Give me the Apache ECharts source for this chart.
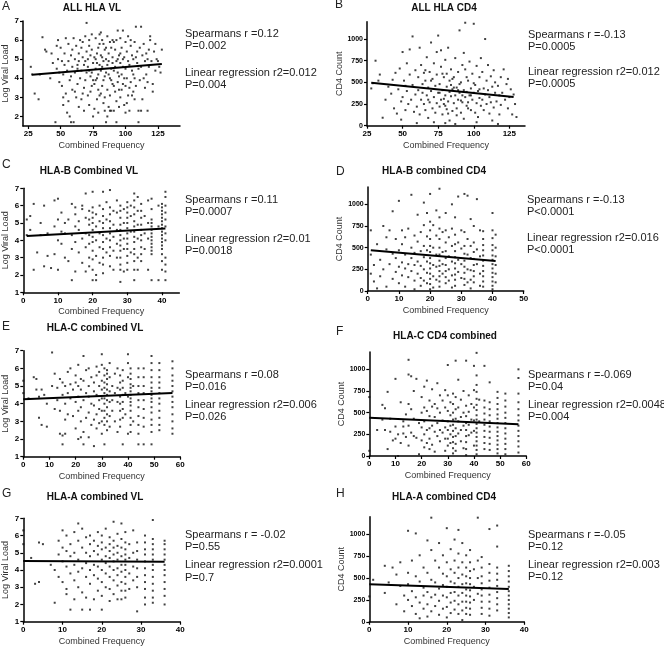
<!DOCTYPE html>
<html><head><meta charset="utf-8">
<script src="https://cdn.jsdelivr.net/npm/echarts@6/dist/echarts.min.js"></script>
<style>html,body{margin:0;padding:0;background:#fff}#c{width:664px;height:648px}</style>
</head><body><div id="c"></div><script>
// ---------- DATA ----------
const ptsA = [[27,4.6],[28,4.2],[30,3.2],[33,2.9],[34,4.2],[36,6.15],[38,5.5],[39,5.4],[42,4.0],[43,5.3],[44,4.8],
[46,1.7],[47,5.7],[47,4.5],[48,5.0],[49,3.8],[49,4.3],[48,6.0],[50,5.6],[51,4.9],[51,3.6],[52,4.2],[52,2.6],[53,5.3],[53,4.7],[54,3.2],[54,6.1],[55,4.4],[55,2.2],[52,3.0],
[56,5.8],[56,4.9],[57,3.9],[57,2.0],[58,1.7],[58,5.2],[59,4.6],[59,3.4],[60,6.1],[60,1.7],[58,4.1],[56,2.8],[59,5.5],
[61,5.0],[61,4.3],[62,3.0],[62,5.7],[63,4.7],[63,3.7],[64,2.5],[64,5.3],[65,4.0],[65,6.0],[61,3.3],[63,4.5],[64,4.9],
[66,5.6],[66,4.4],[67,3.2],[67,5.1],[68,4.7],[68,2.3],[69,6.2],[69,3.9],[70,6.9],[70,4.3],[66,2.9],[67,5.9],[68,3.5],[69,4.9],[70,5.4],
[71,4.6],[71,3.1],[72,5.7],[72,2.6],[73,4.1],[73,5.2],[74,3.6],[74,6.3],[75,4.8],[75,2.0],[71,5.0],[72,4.4],[73,3.3],[74,5.5],[75,3.9],[72,6.0],[74,4.3],
[76,5.1],[76,3.7],[77,4.5],[77,6.1],[78,2.9],[78,5.3],[79,4.2],[79,3.4],[80,5.8],[80,4.7],[76,2.4],[77,5.0],[78,4.0],[79,5.6],[80,3.1],[77,3.9],[78,4.8],[79,2.2],[80,6.3],
[81,4.4],[81,5.2],[82,3.6],[82,6.0],[83,4.9],[83,2.7],[84,5.5],[84,4.1],[85,1.7],[85,5.0],[81,3.2],[82,4.6],[83,5.8],[84,3.0],[85,4.3],[81,6.4],[83,3.9],[84,2.3],[85,5.6],[82,5.1],
[86,4.7],[86,3.4],[87,5.3],[87,2.5],[88,4.0],[88,5.9],[89,4.5],[89,2.3],[90,5.1],[90,3.7],[86,6.2],[87,4.2],[88,3.1],[89,5.6],[90,4.8],[86,2.0],[88,2.3],[89,3.9],[90,6.0],[87,4.9],
[91,4.4],[91,2.3],[92,5.5],[92,3.3],[93,1.7],[93,4.9],[94,6.5],[94,3.8],[95,5.2],[95,4.1],[91,5.9],[92,4.6],[93,2.8],[94,5.0],[95,3.4],[91,3.6],[93,6.0],[94,4.3],[95,2.5],
[96,4.8],[96,3.0],[97,5.6],[97,4.2],[98,6.5],[98,3.7],[99,5.1],[99,2.6],[100,4.5],[100,5.9],[96,5.3],[97,3.4],[98,4.6],[99,4.0],[100,2.2],[96,6.1],[98,5.0],[100,3.6],
[101,5.4],[101,4.0],[102,3.1],[102,6.2],[103,4.7],[103,2.3],[104,5.7],[104,3.8],[105,4.4],[105,5.2],[101,2.7],[102,4.9],[103,3.5],[104,6.0],[105,3.1],
[106,5.0],[106,4.2],[107,2.9],[107,5.9],[108,6.7],[108,3.6],[109,4.8],[109,5.4],[110,1.7],[110,4.5],[106,3.3],[108,5.1],[110,2.3],[107,4.0],
[111,5.6],[111,3.9],[112,6.7],[112,4.6],[113,2.9],[113,5.2],[114,4.0],[114,5.8],[115,3.5],[115,4.9],[112,2.3],
[116,5.3],[116,4.2],[117,2.3],[117,3.8],[118,4.6],[118,5.5],[119,6.2],[119,6.0],[120,4.9],[117,5.0],
[121,3.7],[121,3.3],[122,5.4],[123,4.4],[124,5.0],[125,4.9],[123,5.8],[126,4.6],[128,5.5],[127,4.3]];

const ptsB = [[28,430],[29,490],[31,750],[33,520],[34,590],[36,92],[38,300],[40,450],[42,370],[43,530],[44,200],[45,610],
[46,140],[47,420],[48,660],[49,280],[50,850],[50,330],[51,520],[52,180],[53,720],[53,400],[54,250],[55,880],[55,590],[52,460],[49,70],
[56,300],[57,1030],[57,470],[58,160],[59,640],[59,360],[60,220],[61,560],[61,410],[62,900],[62,130],[63,700],[63,300],[64,480],[65,250],[65,610],[60,30],[64,380],
[66,520],[66,180],[67,790],[67,350],[68,440],[68,90],[69,620],[69,270],[70,960],[70,400],[71,200],[71,540],[72,330],[72,720],[73,150],[73,460],[74,260],[74,850],[75,1040],[75,380],[66,640],[68,300],[70,520],[72,40],[74,590],
[76,220],[76,480],[77,300],[77,680],[78,130],[78,410],[79,560],[79,250],[80,760],[80,350],[81,190],[81,450],[82,900],[82,280],[83,520],[83,60],[84,340],[84,650],[85,420],[85,170],[76,380],[78,600],[80,230],[82,140],[84,470],[77,870],[79,310],[81,600],[83,390],[85,540],[80,30],
[86,260],[86,560],[87,350],[87,780],[88,200],[88,440],[89,620],[89,300],[90,1100],[90,380],[91,150],[91,500],[92,270],[92,700],[93,410],[93,80],[94,1188],[94,330],[95,560],[95,230],[86,440],[88,120],[90,480],[92,350],[94,650],[87,20],[89,410],[91,290],[93,840],[95,390],
[96,270],[96,520],[97,350],[97,740],[98,180],[98,430],[99,600],[99,300],[100,1176],[100,380],[101,150],[101,470],[102,260],[102,690],[103,400],[103,100],[104,560],[104,320],[105,230],[105,780],[96,200],[98,350],[100,490],[102,40],[104,420],
[106,300],[106,620],[107,430],[107,180],[108,1000],[108,360],[109,520],[109,250],[110,700],[110,410],[111,140],[111,330],[112,570],[112,270],[113,450],[114,210],[114,640],[115,380],[115,500],[113,60],
[116,280],[117,460],[118,350],[118,130],[119,560],[119,240],[120,380],[121,650],[122,300],[123,480],[124,200],[124,540],[125,330],[117,20],
[126,420],[127,130],[128,360],[130,100],[129,250]];

// column data: [x, [y values]]
const colsC = [[1,[4.3,5.2]],[2,[5.4,4.6]],[3,[6.1,2.3]],[4,[3.3]],[5,[4.3,5.0]],[6,[6.0,2.5]],[7,[3.1,4.4]],[8,[2.4]],[9,[6.3,4.8,3.2]],
[10,[6.4,5.2,4.0,2.3]],[11,[5.6,4.5,3.8]],[12,[4.4,3.0,5.0]],[13,[5.2,2.8]],[14,[1.7,4.3,6.1,3.5]],[15,[5.5,4.8,3.9,2.2,5.9]],[16,[4.6,3.3,5.1]],
[17,[5.8,4.1,2.7,6.0]],[18,[5.3,4.4,3.6,2.2,6.7]],[19,[5.7,5.2,4.9,4.3,3.8,3.0,2.5]],[20,[6.8,5.6,5.3,5.0,4.6,4.2,3.9,3.4,2.9,2.3,1.7,5.9]],
[21,[5.5,4.8,4.0,3.1,2.0,1.7]],[22,[6.0,5.1,4.4,3.6,2.7]],[23,[6.8,5.8,5.4,5.0,4.7,4.3,3.9,3.5,3.0,2.6,2.1]],[24,[5.2,4.1,3.3,6.2]],
[25,[6.9,5.9,5.5,5.1,4.7,4.4,4.0,3.6,3.1,2.5]],[26,[5.7,4.9,4.2,3.4,2.3]],[27,[6.3,5.6,4.6,3.8,3.0]],[28,[6.0,5.3,4.9,4.6,4.3,4.0,3.7,3.4,3.0,2.6,2.3,1.6,5.7]],
[29,[5.8,5.0,4.1,3.5,2.2]],[30,[6.2,5.9,5.6,5.3,5.0,4.7,4.4,4.1,3.8,3.5,3.1,2.7,2.3]],[31,[5.4,4.5,3.3,6.0]],
[32,[6.7,6.3,5.9,5.5,5.1,4.8,4.5,4.2,3.9,3.5,3.2,2.8,2.3,1.7]],[33,[6.5,5.7,4.9,4.1,3.0,2.3]],[34,[6.1,5.7,5.3,4.9,4.6,4.3,4.0,3.6,3.2,2.8]],
[35,[5.4,4.4,3.5]],[36,[6.3,5.0,4.1,2.3]],[37,[6.4,5.8,5.2,5.0,4.8,4.6,4.4,4.2,4.0,3.8,3.6,3.4,3.2,1.7]],[39,[6.0,4.8,1.7]],
[40,[6.1,5.9,5.7,5.5,5.3,5.1,4.9,4.7,4.5,4.3,4.1,3.9,3.7,3.5,3.2,2.8,2.3]],[41,[6.8,6.5,6.0,5.6,5.2,4.8,4.4,4.0,3.0,2.6,2.2,1.7]]];

const colsD = [[1,[420,200,700]],[2,[110,300]],[3,[30,540]],[4,[360,170]],[5,[750,250]],[6,[480,50,620]],[7,[310,700]],[8,[920,140,430]],
[9,[600,380,220]],[10,[1040,470,280,90]],[11,[700,540,330,180]],[12,[420,260,620,50]],[13,[720,310,160]],[14,[1110,500,380,230]],
[15,[640,440,300,120,20]],[16,[880,570,340,200]],[17,[680,460,290,150,60]],[18,[1020,760,520,390,250,120]],[19,[900,630,470,340,210,90]],
[20,[1120,800,700,600,520,450,380,320,260,200,140,80,20]],[21,[760,500,300,170,40]],[22,[930,640,420,280,130]],
[23,[1180,850,720,600,500,420,350,290,230,170,110,50]],[24,[680,450,310,200]],[25,[900,700,560,460,380,300,230,160,90]],
[26,[620,400,250,120]],[27,[1000,720,520,340,180,40]],[28,[850,650,540,460,390,320,260,190,130,60]],[29,[1090,560,360,220]],
[30,[700,490,310,150]],[31,[1120,680,520,430,350,280,210,140,70]],[32,[1100,600,420,250,100]],[33,[830,520,380,240,130,30]],
[34,[750,560,450,370,300,230,170,100]],[35,[1060,480,310]],[36,[700,400,200,60]],[37,[690,600,530,470,410,350,290,230,170,110,50]],
[40,[900,700,610,530,470,410,360,310,260,210,160,110,60,20]],[41,[650,500,400,300,200,100]]];

const colsE = [[0,[5.3,4.6]],[2,[4.3]],[4,[5.5]],[5,[5.4,4.8]],[6,[4.4,3.2]],[7,[4.8,2.8]],[8,[4.5]],[9,[2.7,4.0]],[11,[6.9,5.0]],[12,[5.7,3.7]],
[13,[4.2,4.9]],[14,[3.6,5.4,2.3]],[15,[5.2,4.5,2.2,1.7]],[16,[5.0,4.0,3.1,2.3]],[17,[5.8,4.6,3.4]],[18,[6.0,5.1,4.3]],[19,[3.3,4.8]],
[20,[5.6,5.2,4.1,2.6]],[21,[6.2,5.0,4.4,3.6,2.0]],[22,[5.4,4.8,3.8,3.0,2.1]],[23,[6.7,5.3,4.2,2.4,1.7]],[24,[5.9,4.6,3.2]],
[25,[6.0,5.0,4.4,3.5,2.1]],[26,[5.5,4.0,2.8]],[27,[5.2,4.7,3.9,3.1,1.6]],[28,[6.1,5.6,4.5,3.4,2.6]],[29,[5.8,5.0,4.2,3.7,2.9]],
[30,[6.8,6.2,5.3,4.8,4.3,3.6,3.0,2.3]],[31,[6.0,5.6,5.2,4.9,4.6,4.3,4.0,3.6,3.2,2.8,1.7]],[32,[5.9,5.7,5.4,5.1,4.8,4.5,4.2,3.8,3.4,3.0,2.5]],
[33,[6.3,5.5,4.7,4.1,3.3,2.7]],[34,[5.0,4.2,3.6]],[35,[5.7,4.6,3.0]],[36,[6.0,4.9,4.1,2.4]],[37,[5.6,5.2,4.8,4.4,4.0,3.6,3.1,2.7]],
[38,[5.9,5.3,4.9,4.5,4.1,3.7,3.2,1.7]],[39,[4.6,3.4]],[40,[6.8,6.3,5.5,4.4,2.3]],[41,[6.0,5.7,5.4,5.1,4.9,4.7,4.5,4.3,4.1,3.9,3.6,3.2,2.8,2.4]],
[42,[3.0,5.0]],[44,[6.0,5.5,5.0,4.6,4.2,3.8,3.3,2.8,2.3,1.7]],[46,[6.0,5.5,5.0,4.6,4.2,3.7,3.2,2.7,1.7]],
[49,[6.7,6.3,5.9,5.5,5.2,4.9,4.7,4.5,4.3,4.1,3.8,3.5,3.1,2.8,2.4,1.7]],[52,[6.3,5.9,5.5,5.2,4.9,4.6,4.3,4.0,3.6,3.2,2.8,2.5]],
[57,[6.4,6.0,5.6,5.3,5.0,4.7,4.4,4.1,3.8,3.4,3.0,2.6,2.3]]];

const colsF = [[0,[680,60]],[3,[300]],[5,[420,590]],[6,[550,300]],[7,[740,80]],[8,[430,280]],[9,[180]],[10,[890,340,200]],[11,[250,0]],
[12,[620,150]],[13,[400,260,340]],[14,[480,220]],[15,[1110,940,600,350,120]],[16,[920,540,270]],[17,[750,430,230]],[18,[890,210]],[19,[380,20]],
[20,[680,500,330,180]],[21,[800,560,400,250,100]],[22,[870,520,300,150]],[23,[640,460,320,200,80]],[24,[770,570,350,130]],[25,[600,450,280,50]],
[26,[840,550,380,230]],[27,[700,500,300,170]],[28,[640,410,270]],[29,[760,560,330,200,60]],[30,[1050,700,520,400,300,200,120]],
[31,[620,470,350,250,150]],[32,[720,600,500,420,360,290,220,160,90,30]],[33,[1100,680,540,430,320,230,140,60]],[34,[880,560,400,260]],
[35,[650,450,300,170]],[36,[750,500,350,90]],[37,[1100,580,460,380,300,230,160,80,10]],[38,[700,510,360,240]],[39,[600,420,270]],
[40,[1040,760,560,410,290,120]],[41,[1190,930,820,740,660,590,530,470,420,370,320,270,220,170,120,70,20]],[42,[650,400]],
[44,[1040,640,560,490,420,360,290,220,150,80]],[46,[850,620,540,470,400,340,280,210,140,70]],
[49,[740,670,600,540,480,430,380,330,280,230,180,130,80,30]],[52,[720,640,570,500,440,380,320,260,200,140,80,20]],
[57,[1000,900,720,620,540,470,410,350,290,230,170,110,40]]];

const colsG = [[0,[6.3,5.5]],[2,[4.7]],[3,[3.2]],[4,[5.6,3.3]],[5,[5.5]],[7,[4.3]],[8,[4.0,2.1]],[9,[5.7,4.9,3.6]],[10,[6.3,5.3,4.5,3.3]],
[11,[6.0,5.1,4.2,2.9,2.6]],[12,[5.5,4.8,3.8,1.7]],[13,[6.2,5.0,4.3,3.4,2.3]],[14,[6.7,5.7,4.6,3.9,3.0]],[15,[6.4,5.3,4.1,2.7,1.7]],
[16,[5.9,5.0,4.4,3.6,2.4]],[17,[6.0,5.5,4.8,4.0,3.2,1.7]],[18,[5.7,5.1,4.3,3.7,2.3]],[19,[6.2,5.4,4.9,4.2,3.5,2.8]],
[20,[6.0,5.6,5.2,4.6,4.0,3.3,2.5,1.7]],[21,[6.4,5.3,4.8,4.4,3.8,3.0]],[22,[5.9,5.5,5.1,4.7,4.2,3.6,2.9,2.2]],
[23,[6.8,5.7,5.3,4.9,4.5,4.0,3.4,2.6]],[24,[6.1,5.4,5.0,4.6,4.1,3.7,3.1,2.3]],[25,[6.7,5.8,5.3,4.8,4.3,3.9,3.3,2.8,2.3]],
[26,[6.2,5.6,5.2,4.9,4.6,4.3,4.0,3.6,3.2,2.8,2.4]],[27,[5.5,4.7,3.8,2.9]],[28,[6.3,5.0,4.2,3.4]],[29,[5.6,5.1,4.6,4.1,3.6,3.0,1.6]],
[31,[6.0,5.6,5.2,4.9,4.5,4.1,3.7,3.3,2.9,2.4,2.0]],[33,[6.9,5.8,5.5,5.2,4.9,4.6,4.3,4.0,3.6,3.2,2.8,2.4,2.1]],
[36,[5.7,5.5,5.2,4.9,4.6,4.3,4.0,3.7,3.3,2.9,2.5,2.0]]];

const colsH = [[0,[290]],[1,[480]],[4,[330,640]],[5,[450]],[6,[620]],[7,[540,200]],[8,[410,680]],[9,[300,120]],[10,[1040,560,250,430]],
[11,[700,350,180]],[12,[1010,520,280,90]],[13,[760,460,220,40]],[14,[620,390,300,150]],[15,[930,560,340,200,60]],[16,[1190,820,480,280,120]],
[17,[700,450,310,180]],[18,[900,620,380,240,80]],[19,[760,550,420,300,150]],[20,[1070,680,520,400,280,170,50]],[21,[830,600,460,330,220,100]],
[22,[940,700,560,440,340,240,140]],[23,[1050,780,620,500,400,300,200,90]],[24,[900,680,540,430,330,230,130,20]],
[25,[760,620,520,440,370,300,230,160,90]],[26,[820,680,580,500,430,360,290,220,150,80]],[27,[600,400,250]],[28,[1190,700,500,320]],
[29,[740,620,520,440,370,300,230,160,90]],[31,[1060,660,560,470,390,310,230,150,70]],[33,[1100,860,620,550,480,410,340,270,200,130]],
[36,[640,580,520,460,400,350,300,250,200,150,100,50]]];

// regression lines (end points)
const lineA = [[28,4.18],[128,4.75]];
const lineB = [[28,495],[128,330]];
const lineC = [[1,4.25],[41,4.68]];
const lineD = [[1,470],[41,345]];
const lineE = [[0,4.25],[57,4.6]];
const lineF = [[0,440],[57,365]];
const lineG = [[0,4.52],[36,4.48]];
const lineH = [[0,430],[36,375]];

// tick labels
const ticksFreqAB = [25,50,75,100,125];
const ticksFreq40 = [0,10,20,30,40];
const ticksFreq50 = [0,10,20,30,40,50];
const ticksFreq60 = [0,10,20,30,40,50,60];
const ticksVLA = [2,3,4,5,6,7];
const ticksVL = [1,2,3,4,5,6,7];
const ticksCD4 = [0,250,500,750,1000];

// texts
const letters = ['A','B','C','D','E','F','G','H'];
const titles = ['ALL HLA VL','ALL HLA CD4','HLA-B Combined VL','HLA-B combined CD4','HLA-C combined VL','HLA-C CD4 combined','HLA-A combined VL','HLA-A combined CD4'];
const stats = [
 ['Spearmans r =0.12','P=0.002','Linear regression r2=0.012','P=0.004'],
 ['Spearmans r =-0.13','P=0.0005','Linear regression r2=0.012','P=0.0005'],
 ['Spearmans r =0.11','P=0.0007','Linear regression r2=0.01','P=0.0018'],
 ['Spearmans r =-0.13','P<0.0001','Linear regression r2=0.016','P<0.0001'],
 ['Spearmans r =0.08','P=0.016','Linear regression r2=0.006','P=0.026'],
 ['Spearmans r =-0.069','P=0.04','Linear regression r2=0.0048','P=0.004'],
 ['Spearmans r = -0.02','P=0.55','Linear regression r2=0.0001','P=0.7'],
 ['Spearmans r =-0.05','P=0.12','Linear regression r2=0.003','P=0.12']
];
const xName = 'Combined Frequency';
const yNameVL = 'Log Viral Load';
const yNameCD4 = 'CD4 Count';

// ---------- BUILD ----------
function flat(cols){const o=[];cols.forEach(c=>c[1].forEach(y=>o.push([c[0],y])));return o;}
const points = [ptsA, ptsB, flat(colsC), flat(colsD), flat(colsE), flat(colsF), flat(colsG), flat(colsH)];
const lines = [lineA,lineB,lineC,lineD,lineE,lineF,lineG,lineH];

const layout = [
 {l:23,  t:21,   w:157, h:105,  x:[21,142], y:[1.5,7], xt:ticksFreqAB, yt:ticksVLA, yn:yNameVL,  yg:13, tx:92,  ty:8,   lx:2,   ly:8,   sx:185, sy:[34,46,73,85]},
 {l:367, t:21.7, w:158, h:104,  x:[25,136], y:[0,1200],xt:ticksFreqAB, yt:ticksCD4, yn:yNameCD4, yg:20, tx:444, ty:8,   lx:335, ly:6,   sx:528, sy:[35,47,72,84]},
 {l:23.3,t:188.3,w:156, h:104,  x:[0,45],   y:[1,7],   xt:ticksFreq40, yt:ticksVL,  yn:yNameVL,  yg:13, tx:89,  ty:171, lx:2,   ly:166, sx:185, sy:[200,212,239,251]},
 {l:367.7,t:187, w:156, h:104,  x:[0,50],   y:[0,1200],xt:ticksFreq50, yt:ticksCD4, yn:yNameCD4, yg:21, tx:434, ty:171, lx:336, ly:173, sx:527, sy:[200,212,238,250]},
 {l:23.3,t:350.7,w:157, h:106,  x:[0,60],   y:[1,7],   xt:ticksFreq60, yt:ticksVL,  yn:yNameVL,  yg:13, tx:95,  ty:328, lx:2,   ly:328, sx:185, sy:[375,387,405,417]},
 {l:369.3,t:352, w:157, h:104,  x:[0,60],   y:[0,1200],xt:ticksFreq60, yt:ticksCD4, yn:yNameCD4, yg:22, tx:445, ty:336, lx:336, ly:333, sx:528, sy:[375,387,405,417]},
 {l:23.3,t:518.3,w:157, h:103.4,x:[0,40],   y:[1,7],   xt:ticksFreq40, yt:ticksVL,  yn:yNameVL,  yg:13, tx:95,  ty:497, lx:2,   ly:495, sx:185, sy:[535,547,565,578]},
 {l:369.3,t:516.8,w:155,h:105,  x:[0,40],   y:[0,1200],xt:ticksFreq40, yt:ticksCD4, yn:yNameCD4, yg:22, tx:444, ty:497, lx:336, ly:495, sx:528, sy:[535,547,565,577]}
];

const FONT = '"Liberation Sans", Arial, sans-serif';
const axisCommon = {
  axisLine:{show:true,onZero:false,lineStyle:{color:'#000',width:1.5}},
  splitLine:{show:false},
};
const plain = v => String(v);
const grid=[], xAxis=[], yAxis=[], series=[], graphic=[];
layout.forEach((L,i)=>{
  grid.push({left:L.l, top:L.t, width:L.w, height:L.h, containLabel:false});
  xAxis.push(Object.assign({}, axisCommon, {
    type:'value', gridIndex:i, min:L.x[0], max:L.x[1],
    axisTick:{show:true, length:3, lineStyle:{color:'#000',width:1.2}, customValues:L.xt},
    axisLabel:{customValues:L.xt, formatter:plain, color:'#000', fontSize:8, fontWeight:'bold', fontFamily:FONT, margin:4},
    name:xName, nameLocation:'middle', nameGap:15,
    nameTextStyle:{fontSize:9, color:'#333', fontFamily:FONT}
  }));
  yAxis.push(Object.assign({}, axisCommon, {
    type:'value', gridIndex:i, min:L.y[0], max:L.y[1],
    axisTick:{show:true, length:3, lineStyle:{color:'#000',width:1.2}, customValues:L.yt},
    axisLabel:{customValues:L.yt, formatter:plain, color:'#000', fontSize:(L.y[1]>100?7:8), fontWeight:'bold', fontFamily:FONT, margin:4},
    name:L.yn, nameLocation:'middle', nameGap:L.yg, nameRotate:90,
    nameTextStyle:{fontSize:9, color:'#333', fontFamily:FONT}
  }));
  series.push({type:'scatter', xAxisIndex:i, yAxisIndex:i, data:points[i], symbol:'rect', symbolSize:2,
    itemStyle:{color:'#111'}, silent:true, clip:false});
  series.push({type:'line', xAxisIndex:i, yAxisIndex:i, data:lines[i], symbol:'none',
    lineStyle:{color:'#000', width:2}, silent:true, z:5});
  graphic.push({type:'text', left:L.lx, top:L.ly-7, style:{text:letters[i], fontSize:12, fill:'#222', fontFamily:FONT}});
  graphic.push({type:'text', x:L.tx, y:L.ty, style:{text:titles[i], fontSize:10, fontWeight:'bold', fill:'#111', fontFamily:FONT, textAlign:'center', textVerticalAlign:'middle'}});
  stats[i].forEach((s,k)=>{
    graphic.push({type:'text', x:L.sx, y:L.sy[k], style:{text:s, fontSize:11, fill:'#222', fontFamily:FONT, textVerticalAlign:'middle'}});
  });
});

const chart = echarts.init(document.getElementById('c'), null, {renderer:'canvas'});
chart.setOption({animation:false, backgroundColor:'#fff', grid, xAxis, yAxis, series, graphic});
</script></body></html>
